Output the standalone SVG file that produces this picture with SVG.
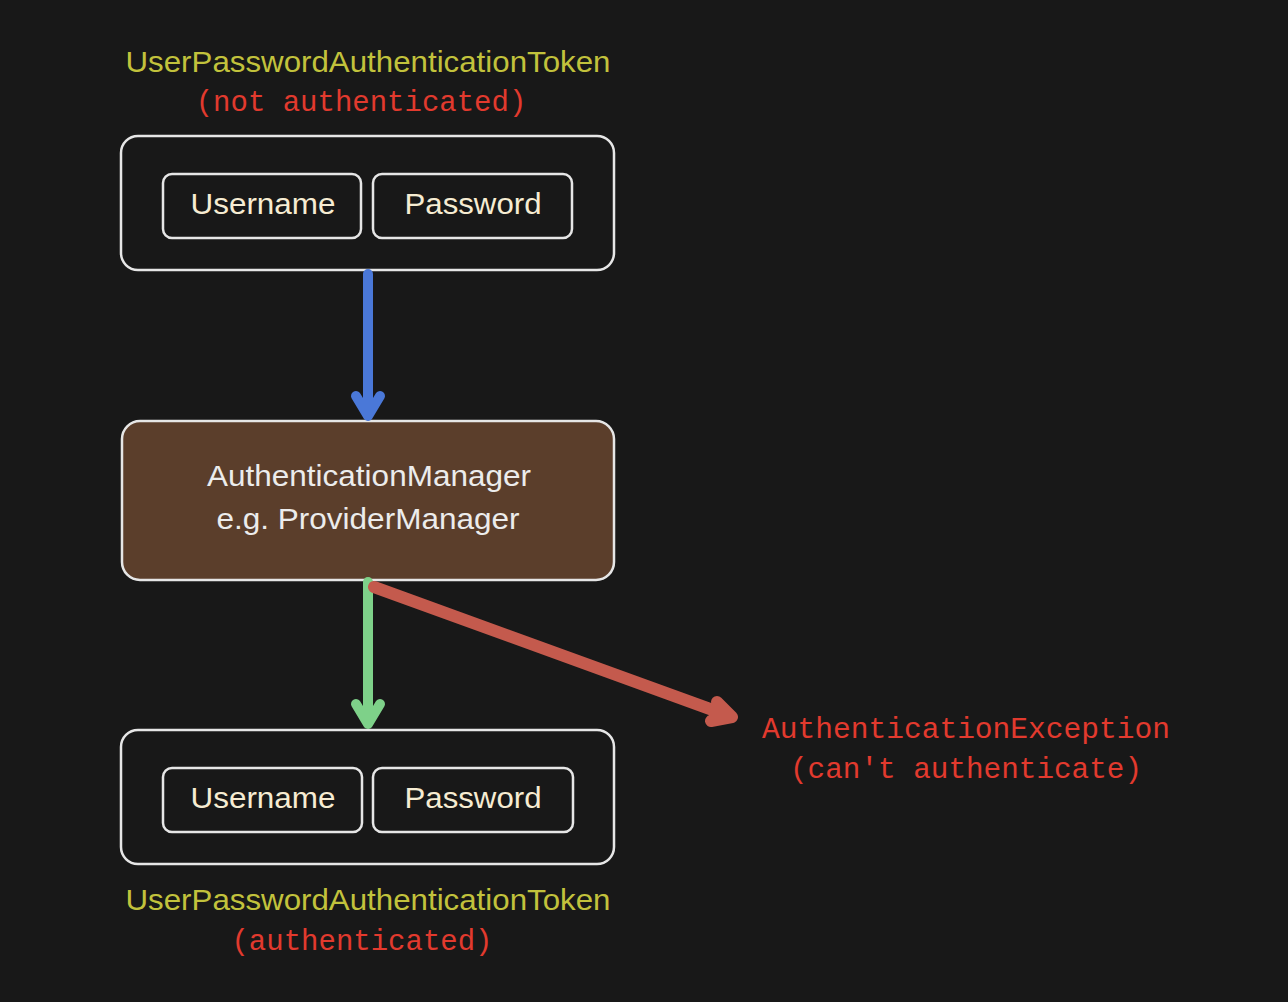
<svg xmlns="http://www.w3.org/2000/svg" width="1288" height="1002" viewBox="0 0 1288 1002">
<style>
.box{fill:#181818;stroke:#e6e6e6;stroke-width:2.5}
.mgr{fill:#5b3e2b;stroke:#e6e6e6;stroke-width:2.5}
.hand{font-family:"Liberation Sans",Arial,sans-serif;font-size:30px;text-anchor:middle}
.field{fill:#f6ecd2}
.title{fill:#c2c23c}
.mono{font-family:"Liberation Mono","DejaVu Sans Mono",monospace;font-size:29px;fill:#e23a2e;text-anchor:middle}
.mgrtxt{fill:#ececec;font-size:29px}
.arr{fill:none;stroke-linecap:round;stroke-linejoin:round}
</style>
<rect width="1288" height="1002" fill="#181818"/>
<g id="token-top">
<text class="hand title" x="368" y="72" textLength="485" lengthAdjust="spacingAndGlyphs">UserPasswordAuthenticationToken</text>
<text class="mono" x="361" y="111">(not authenticated)</text>
<rect class="box" x="121" y="136" width="493" height="134" rx="17"/>
</g>
<g id="username-top">
<rect class="box" x="163" y="174" width="198" height="64" rx="9"/>
<text class="hand field" x="263" y="214" textLength="145" lengthAdjust="spacingAndGlyphs">Username</text>
</g>
<g id="password-top">
<rect class="box" x="373" y="174" width="199" height="64" rx="9"/>
<text class="hand field" x="473" y="214" textLength="137" lengthAdjust="spacingAndGlyphs">Password</text>
</g>
<g id="manager">
<rect class="mgr" x="122" y="421" width="492" height="159" rx="18"/>
<text class="hand mgrtxt" x="369" y="486" textLength="324" lengthAdjust="spacingAndGlyphs">AuthenticationManager</text>
<text class="hand mgrtxt" x="368" y="529" textLength="303" lengthAdjust="spacingAndGlyphs">e.g. ProviderManager</text>
</g>
<g id="token-bottom">
<rect class="box" x="121" y="730" width="493" height="134" rx="17"/>
<text class="hand title" x="368" y="910" textLength="485" lengthAdjust="spacingAndGlyphs">UserPasswordAuthenticationToken</text>
<text class="mono" x="362" y="950">(authenticated)</text>
</g>
<g id="username-bottom">
<rect class="box" x="163" y="768" width="199" height="64" rx="9"/>
<text class="hand field" x="263" y="808" textLength="145" lengthAdjust="spacingAndGlyphs">Username</text>
</g>
<g id="password-bottom">
<rect class="box" x="373" y="768" width="200" height="64" rx="9"/>
<text class="hand field" x="473" y="808" textLength="137" lengthAdjust="spacingAndGlyphs">Password</text>
</g>
<g id="exception">
<text class="mono" x="966" y="738" textLength="408" lengthAdjust="spacingAndGlyphs">AuthenticationException</text>
<text class="mono" x="966" y="778" textLength="352" lengthAdjust="spacingAndGlyphs">(can't authenticate)</text>
</g>
<g id="connectors">
<path class="arr" stroke="#4a78d8" stroke-width="10" d="M368 274 L368 416 M356 396 L368 416 L380 396"/>
<path class="arr" stroke="#7ed189" stroke-width="10" d="M368 582 L368 724 M356 704 L368 724 L380 704"/>
<path class="arr" stroke="#c45a4d" stroke-width="12" d="M374 587 L732 717 M717 702 L732 717 L711 721"/>
</g>
</svg>
